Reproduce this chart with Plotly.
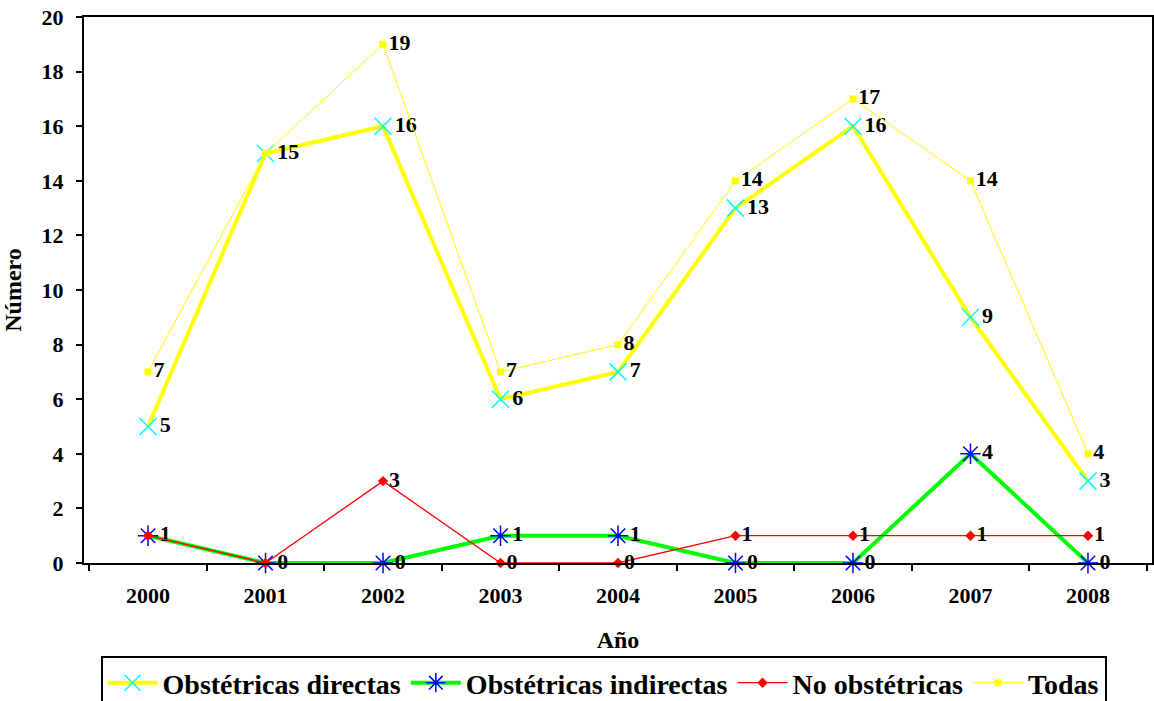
import plotly.graph_objects as go

years = ["2000", "2001", "2002", "2003", "2004", "2005", "2006", "2007", "2008"]
directas = [5, 15, 16, 6, 7, 13, 16, 9, 3]
indirectas = [1, 0, 0, 1, 1, 0, 0, 4, 0]
no_obstetricas = [1, 0, 3, 0, 0, 1, 1, 1, 1]
todas = [7, 15, 19, 7, 8, 14, 17, 14, 4]

FONT = "Liberation Serif"
label_font = dict(family=FONT, size=22, color="black", weight="bold")


def value_labels(values, covered):
    # a value printed at the same spot by another series is written only once
    return ["" if i in covered else str(v) for i, v in enumerate(values)]


fig = go.Figure()

series = [
    ("Obstétricas directas", directas, dict(color="#FFFF00", width=4),
     dict(symbol="x-thin-open", size=17, color="#00FFFF", line=dict(width=1.5, color="#00FFFF")),
     value_labels(directas, set())),
    ("Obstétricas indirectas", indirectas, dict(color="#00FF00", width=4),
     dict(symbol="asterisk-open", size=17, color="#0000FF", line=dict(width=1.5, color="#0000FF")),
     value_labels(indirectas, set())),
    ("No obstétricas", no_obstetricas, dict(color="#FF0000", width=1.3),
     dict(symbol="diamond", size=8, color="#FF0000", line=dict(width=0)),
     value_labels(no_obstetricas, {0, 1})),
    ("Todas", todas, dict(color="#FFFF00", width=1),
     dict(symbol="square", size=7, color="#FFFF00", line=dict(width=0)),
     value_labels(todas, {1})),
]

for name, values, line, marker, text in series:
    fig.add_trace(go.Scatter(
        x=years, y=values, name=name,
        mode="lines+markers+text",
        line=line, marker=marker,
        text=text,
        textposition="middle right",
        textfont=label_font,
        cliponaxis=False,
    ))

fig.update_layout(
    width=1154, height=701,
    margin=dict(l=84, r=0, t=17, b=138),
    paper_bgcolor="white", plot_bgcolor="white",
    font=dict(family=FONT, size=22, color="black", weight="bold"),
    showlegend=True,
    legend=dict(
        orientation="h",
        xref="container", yref="container",
        x=0.523, xanchor="center",
        y=1 - 656 / 701, yanchor="top",
        bordercolor="black", borderwidth=2,
        font=dict(family=FONT, size=28, color="black", weight="bold"),
        itemwidth=50,
        tracegroupgap=0,
    ),
)

fig.update_xaxes(
    type="category",
    tickson="boundaries",
    ticks="outside", ticklen=6, tickwidth=1.5, tickcolor="black",
    showline=True, linecolor="black", linewidth=2, mirror=True,
    showgrid=False, zeroline=False,
    tickfont=dict(family=FONT, size=22, color="black", weight="bold"),
    ticklabelstandoff=12,
    title=dict(text="Año", font=dict(family=FONT, size=24, color="black", weight="bold"), standoff=24),
)

fig.update_yaxes(
    range=[0, 20], dtick=2,
    ticks="outside", ticklen=6, tickwidth=1.5, tickcolor="black",
    showline=True, linecolor="black", linewidth=2, mirror=True,
    showgrid=False, zeroline=False,
    tickfont=dict(family=FONT, size=22, color="black", weight="bold"),
    ticklabelstandoff=8,
    title=dict(text="Número", font=dict(family=FONT, size=24, color="black", weight="bold"), standoff=14),
)

fig.write_html("out.html")
